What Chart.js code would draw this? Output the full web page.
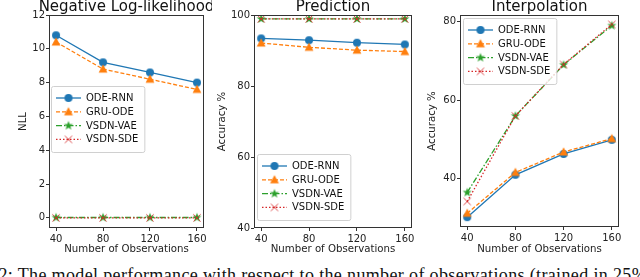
<!DOCTYPE html>
<html>
<head>
<meta charset="utf-8">
<script src="https://cdn.jsdelivr.net/npm/chart.js@4.4.1/dist/chart.umd.min.js"></script>
<style>
  body { margin: 0; width: 640px; height: 277px; overflow: hidden; background: #fff; position: relative; }
  .panel { position: absolute; top: 0; height: 256px; }
  #caption {
    position: absolute; left: 0px; top: 267px; line-height: 17px;
    font-family: "Liberation Serif", "DejaVu Serif", serif; font-size: 18px;
    color: #111; white-space: nowrap;
  }
</style>
</head>
<body>
<div class="panel" style="left:0px;width:212px"><canvas id="nll"></canvas></div>
<div class="panel" style="left:212px;width:208px"><canvas id="pred"></canvas></div>
<div class="panel" style="left:420px;width:220px"><canvas id="interp"></canvas></div>
<div id="caption">2: The model performance with respect to the number of observations (trained in 25%</div>
<script>
const observations = [40, 80, 120, 160];
const seriesLabels = ['ODE-RNN', 'GRU-ODE', 'VSDN-VAE', 'VSDN-SDE'];
const xTicks = [40, 80, 120, 160];

// Negative log-likelihood
const nllOdeRnn = [10.8, 9.2, 8.6, 8.0];
const nllGruOde = [10.4, 8.8, 8.2, 7.6];
const nllVsdnVae = [0.02, 0.02, 0.02, 0.02];
const nllVsdnSde = [0.0, 0.0, 0.0, 0.0];
const nllTicks = [0, 2, 4, 6, 8, 10, 12];

// Prediction accuracy
const predOdeRnn = [93.4, 92.9, 92.2, 91.7];
const predGruOde = [92.1, 90.9, 90.1, 89.7];
const predVsdnVae = [98.9, 98.9, 98.9, 98.9];
const predVsdnSde = [98.9, 98.9, 98.9, 98.9];
const predTicks = [40, 60, 80, 100];

// Interpolation accuracy
const interpOdeRnn = [30.2, 41.0, 46.3, 49.9];
const interpGruOde = [31.2, 41.6, 46.8, 50.2];
const interpVsdnVae = [36.5, 56.0, 69.0, 79.0];
const interpVsdnSde = [34.2, 56.0, 69.1, 79.3];
const interpTicks = [40, 60, 80];

const FONT = '"DejaVu Sans", sans-serif';
const colors = ['#1f77b4', '#ff7f0e', '#2ca02c', '#d62728'];
const dashes = [[], [4, 2], [6, 2, 1.5, 2], [1.5, 2]];

function makeMarker(kind, color) {
    const c = document.createElement('canvas');
    c.width = 12; c.height = 12;
    const g = c.getContext('2d');
    g.translate(6, 6);
    g.fillStyle = color;
    g.strokeStyle = color;
    g.beginPath();
    if (kind === 'circle') {
        g.arc(0, 0, 4, 0, Math.PI * 2);
        g.fill();
    } else if (kind === 'triangle') {
        g.moveTo(0, -4.8); g.lineTo(4.4, 3.4); g.lineTo(-4.4, 3.4); g.closePath();
        g.fill();
    } else if (kind === 'star') {
        for (let i = 0; i < 10; i++) {
            const r = i % 2 === 0 ? 4.8 : 2;
            const a = -Math.PI / 2 + i * Math.PI / 5;
            if (i === 0) g.moveTo(r * Math.cos(a), r * Math.sin(a));
            else g.lineTo(r * Math.cos(a), r * Math.sin(a));
        }
        g.closePath();
        g.fill();
    } else {
        g.lineWidth = 1;
        g.globalAlpha = 0.85;
        g.moveTo(-3.6, -3.6); g.lineTo(3.6, 3.6);
        g.moveTo(3.6, -3.6); g.lineTo(-3.6, 3.6);
        g.stroke();
    }
    return c;
}

const markers = [
    makeMarker('circle', colors[0]),
    makeMarker('triangle', colors[1]),
    makeMarker('star', colors[2]),
    makeMarker('x', colors[3])
];

const panelTitle = {
    id: 'panelTitle',
    afterDraw(chart, args, opts) {
        const ctx = chart.ctx;
        const a = chart.chartArea;
        ctx.save();
        ctx.font = '15px ' + FONT;
        ctx.fillStyle = '#111';
        ctx.textAlign = 'center';
        ctx.textBaseline = 'alphabetic';
        ctx.fillText(opts.text, (a.left + a.right) / 2, 10.5);
        ctx.restore();
    }
};

const frame = {
    id: 'frame',
    afterDatasetsDraw(chart) {
        const ctx = chart.ctx;
        const a = chart.chartArea;
        ctx.save();
        ctx.strokeStyle = '#333';
        ctx.lineWidth = 1;
        ctx.strokeRect(Math.round(a.left) + 0.5, Math.round(a.top) + 0.5,
            Math.round(a.right - a.left) - 1, Math.round(a.bottom - a.top) - 1);
        ctx.restore();
    }
};

const boxLegend = {
    id: 'boxLegend',
    afterDraw(chart, args, opts) {
        const ctx = chart.ctx;
        const sets = chart.data.datasets;
        ctx.save();
        ctx.font = '10px ' + FONT;
        let maxW = 0;
        sets.forEach(ds => { maxW = Math.max(maxW, ctx.measureText(ds.label).width); });
        const w = 35 + maxW + 6;
        const h = 66;
        const x = opts.left, y = opts.top;
        ctx.beginPath();
        ctx.roundRect(x + 0.5, y + 0.5, w, h, 2);
        ctx.fillStyle = 'rgba(255,255,255,0.8)';
        ctx.fill();
        ctx.strokeStyle = '#d0d0d0';
        ctx.lineWidth = 1;
        ctx.stroke();
        sets.forEach((ds, i) => {
            const cy = y + 12 + i * 13.8;
            ctx.beginPath();
            ctx.setLineDash(ds.borderDash);
            ctx.strokeStyle = ds.borderColor;
            ctx.lineWidth = 1.3;
            ctx.moveTo(x + 5, cy);
            ctx.lineTo(x + 30, cy);
            ctx.stroke();
            ctx.setLineDash([]);
            ctx.drawImage(ds.pointStyle, x + 17.5 - 6, cy - 6);
            ctx.fillStyle = '#111';
            ctx.textAlign = 'left';
            ctx.textBaseline = 'middle';
            ctx.fillText(ds.label, x + 35, cy + 0.5);
        });
        ctx.restore();
    }
};

function makeDatasets(values) {
    return values.map((vals, i) => ({
        label: seriesLabels[i],
        data: observations.map((x, j) => ({ x: x, y: vals[j] })),
        borderColor: colors[i],
        backgroundColor: colors[i],
        borderWidth: 1.3,
        borderDash: dashes[i],
        pointStyle: markers[i],
        pointRadius: 4,
        tension: 0,
        order: 4 - i
    }));
}

function draw(canvasId, cfg) {
    new Chart(document.getElementById(canvasId), {
        type: 'line',
        data: { datasets: makeDatasets(cfg.values) },
        options: {
            responsive: true,
            maintainAspectRatio: false,
            animation: false,
            layout: { padding: { top: 15, right: cfg.padRight, bottom: 0, left: 0 } },
            scales: {
                x: {
                    type: 'linear',
                    min: 34,
                    max: 166,
                    afterBuildTicks: s => { s.ticks = xTicks.map(v => ({ value: v })); },
                    afterFit: s => { s.height = cfg.xAxisH; },
                    grid: { drawOnChartArea: false, tickLength: 3, tickColor: '#333' },
                    border: { display: false },
                    ticks: { color: '#222', font: { size: 10, family: FONT }, padding: 2, autoSkip: false, maxRotation: 0 },
                    title: {
                        display: true, text: 'Number of Observations', color: '#222',
                        font: { size: 10.2, family: FONT }, padding: { top: 0, bottom: 1 }
                    }
                },
                y: {
                    min: cfg.yMin,
                    max: cfg.yMax,
                    afterBuildTicks: s => { s.ticks = cfg.yTicks.map(v => ({ value: v })); },
                    afterFit: s => { s.width = cfg.yAxisW; },
                    grid: { drawOnChartArea: false, tickLength: 3, tickColor: '#333' },
                    border: { display: false },
                    ticks: { color: '#222', font: { size: 10, family: FONT }, padding: 1, autoSkip: false },
                    title: {
                        display: true, text: cfg.yTitle, color: '#222',
                        font: { size: 10.2, family: FONT }, padding: { top: cfg.yTitlePad, bottom: 0 }
                    }
                }
            },
            plugins: {
                legend: { display: false },
                tooltip: { enabled: false },
                panelTitle: { text: cfg.title },
                boxLegend: cfg.legend
            }
        },
        plugins: [frame, panelTitle, boxLegend]
    });
}

draw('nll', {
    title: 'Negative Log-likelihood',
    values: [nllOdeRnn, nllGruOde, nllVsdnVae, nllVsdnSde],
    yMin: -0.6, yMax: 12, yTicks: nllTicks, yTitle: 'NLL',
    yAxisW: 49, yTitlePad: 17, padRight: 8, xAxisH: 28,
    legend: { left: 51, top: 86 }
});

draw('pred', {
    title: 'Prediction',
    values: [predOdeRnn, predGruOde, predVsdnVae, predVsdnSde],
    yMin: 40, yMax: 100, yTicks: predTicks, yTitle: 'Accuracy %',
    yAxisW: 42, yTitlePad: 4, padRight: 8, xAxisH: 28,
    legend: { left: 45, top: 154 }
});

draw('interp', {
    title: 'Interpolation',
    values: [interpOdeRnn, interpGruOde, interpVsdnVae, interpVsdnSde],
    yMin: 27.7, yMax: 81.7, yTicks: interpTicks, yTitle: 'Accuracy %',
    yAxisW: 40, yTitlePad: 6, padRight: 21, xAxisH: 29,
    legend: { left: 43, top: 18 }
});

// stretch the caption so "The ... 25" spans the same width as in the figure
(function fitCaption() {
    const cap = document.getElementById('caption');
    const full = cap.textContent;
    const prefix = '2: ';
    const body = full.slice(prefix.length, full.indexOf('25') + 2);
    const g = document.createElement('canvas').getContext('2d');
    g.font = '18px "Liberation Serif"';
    const ls = (614 - g.measureText(body).width) / body.length;
    cap.style.letterSpacing = ls + 'px';
    const prefixW = g.measureText(prefix).width + prefix.length * ls;
    cap.style.left = (18 - prefixW) + 'px';
})();
</script>
</body>
</html>
